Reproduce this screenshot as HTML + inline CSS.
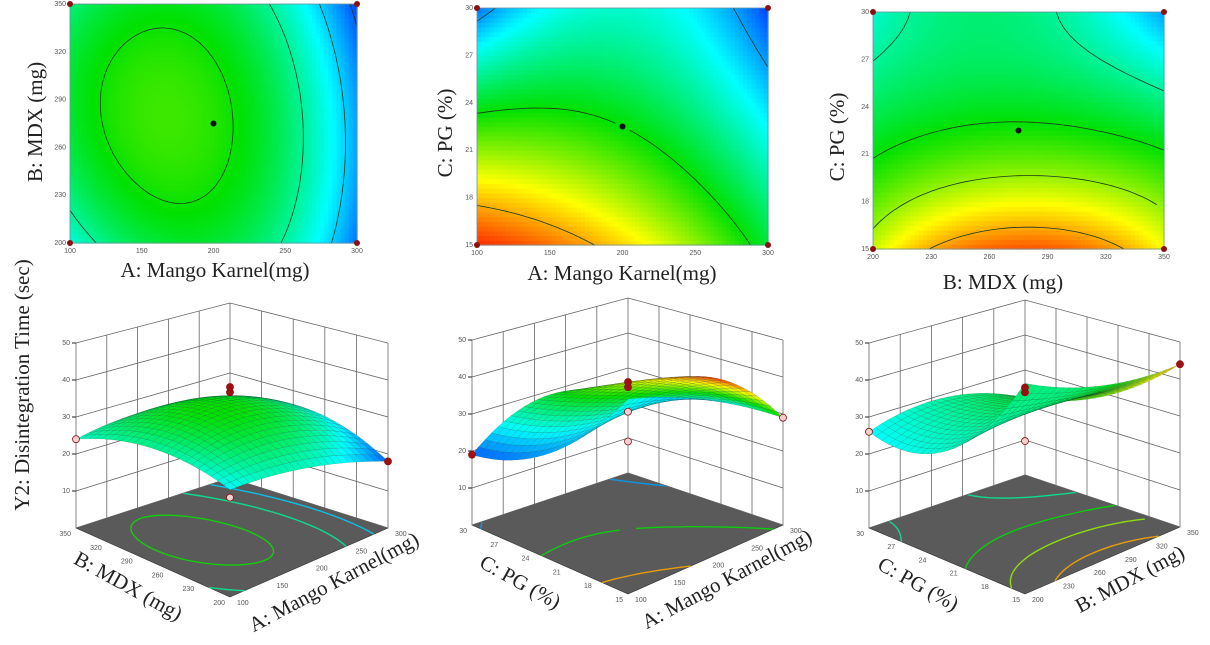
<!DOCTYPE html>
<html><head><meta charset="utf-8"><style>
html,body{margin:0;padding:0;background:#fff;}
svg{display:block;font-family:"Liberation Serif",serif;}
.tk{font-family:"Liberation Sans",sans-serif;font-size:7px;fill:#555;}
.ttl{font-size:21px;fill:#222;}
</style></head><body>
<svg id="fig" width="1210" height="645" viewBox="0 0 1210 645" xmlns="http://www.w3.org/2000/svg">
<rect width="1210" height="645" fill="#fff"/>
<text class="ttl" font-size="23" transform="translate(29,385) rotate(-90)" text-anchor="middle">Y2: Disintegration Time (sec)</text>
<g id="layer"></g>
</svg>
<script>
// ---- contour data (normalized response on 3x3 design grid: [x-level][y-level]) ----
const contour1Values = [[0.28,0.45,0.38],[0.45,0.535,0.45],[0.10,0.15,0.05]];
const contour2Values = [[1.00,0.55,0.10],[0.80,0.50,0.30],[0.45,0.25,0.05]];
const contour3Values = [[0.70,0.45,0.30],[0.95,0.52,0.38],[0.75,0.45,0.15]];
const contour1Levels = [0.51,0.35,0.2,0.08];
const contour2Levels = [0.85,0.5,0.15];
const contour3Levels = [0.85,0.65,0.5,0.35];
const ticksA = ["100","150","200","250","300"];
const ticksB = ["200","230","260","290","320","350"];
const ticksC = ["15","18","21","24","27","30"];
const ticksZ = ["10","20","30","40","50"];
const zTickValues = [10,20,30,40,50];
// ---- 3D surface heights on 3x3 grid [a-level][b-level] ----
const surface1Z = [[27.5,30,24],[25,34,26],[18,26,22]];
const surface2Z = [[50,28,19],[42,36,29],[29,34,20]];
const surface3Z = [[54,29,26],[46,33,29],[44,29,22]];
// surface colour levels (0 blue .. 1 red) on same grid
const surface1C = [[0.25,0.35,0.30],[0.30,0.50,0.38],[0.08,0.25,0.25]];
const surface2C = [[0.30,0.15,0.08],[0.20,0.50,0.45],[0.50,1.00,0.50]];
const surface3C = [[0.40,0.30,0.25],[0.45,0.42,0.35],[0.85,0.62,0.45]];
// design points [a,b,z,isRed]
const points1 = [[0,1,24,0],[1,0,18,1],[1,1,24.5,1],[1,1,26,1],[0,0,25.5,0]];
const points2 = [[0,1,19,1],[1,1,24.5,1],[1,1,26,1],[1,1,17.5,0],[1,1,9,0],[1,0,29,0]];
const points3 = [[0,1,26,0],[1,0,44,1],[1,1,23.6,1],[1,1,25,1],[1,1,9.7,0]];

const NS="http://www.w3.org/2000/svg";
const layer=document.getElementById('layer');
function mk(tag,attrs,parent){const e=document.createElementNS(NS,tag);for(const k in attrs)e.setAttribute(k,attrs[k]);(parent||layer).appendChild(e);return e;}
function Lb(t){return [2*(t-.5)*(t-1),-4*t*(t-1),2*t*(t-.5)];}
function val(g,s,t){const A=Lb(s),B=Lb(t);let v=0;for(let i=0;i<3;i++)for(let j=0;j<3;j++)v+=g[i][j]*A[i]*B[j];return v;}
const stops=[[0,[0,20,255]],[0.25,[0,255,255]],[0.5,[0,225,0]],[0.75,[255,255,0]],[1,[255,40,0]]];
function cmapArr(v){v=Math.max(0,Math.min(1,v));for(let k=1;k<stops.length;k++){if(v<=stops[k][0]){const a=stops[k-1],b=stops[k];const f=(v-a[0])/(b[0]-a[0]);return a[1].map((x,i)=>Math.round(x+(b[1][i]-x)*f));}}return [255,40,0];}
function cmap(v){const c=cmapArr(v);return `rgb(${c[0]},${c[1]},${c[2]})`;}
function contourPath(g,levels,nx,ny,map){
 const out=[];
 levels.forEach(L=>{let d='';
  for(let i=0;i<nx;i++)for(let j=0;j<ny;j++){
   const s0=i/nx,s1=(i+1)/nx,t0=j/ny,t1=(j+1)/ny;
   const c=[[s0,t0,val(g,s0,t0)],[s1,t0,val(g,s1,t0)],[s1,t1,val(g,s1,t1)],[s0,t1,val(g,s0,t1)]];
   const pts=[];
   for(let k=0;k<4;k++){const p=c[k],q=c[(k+1)%4];if((p[2]-L)*(q[2]-L)<0){const f=(L-p[2])/(q[2]-p[2]);pts.push(map(p[0]+(q[0]-p[0])*f,p[1]+(q[1]-p[1])*f));}}
   for(let k=0;k+1<pts.length;k+=2)d+=`M${pts[k][0].toFixed(1)},${pts[k][1].toFixed(1)}L${pts[k+1][0].toFixed(1)},${pts[k+1][1].toFixed(1)}`;
  }
  out.push([L,d]);});
 return out;
}
function contourPlot(cfg){
 const g=mk('g',{});
 
 
 const {x0,y0,x1,y1}=cfg;const nx=70,ny=50,w=(x1-x0)/nx,h=(y1-y0)/ny;
 for(let i=0;i<nx;i++)for(let j=0;j<ny;j++){
  mk('rect',{x:(x0+i*w).toFixed(2),y:(y1-(j+1)*h).toFixed(2),width:(w+0.6).toFixed(2),height:(h+0.6).toFixed(2),fill:cmap(val(cfg.values,(i+.5)/nx,(j+.5)/ny))},g);
 }
 const map=(s,t)=>[x0+s*(x1-x0),y1-t*(y1-y0)];
 contourPath(cfg.values,cfg.levels,40,30,map).forEach(([L,d])=>{const p=mk('path',{d:d,stroke:'#1a3a1a',"stroke-width":0.8,fill:'none'},g);});
 mk('rect',{x:x0,y:y0,width:x1-x0,height:y1-y0,fill:'none',stroke:'#6a8fa0',"stroke-width":0.8},g);
 cfg.xt.forEach((t,k)=>{const x=x0+k/(cfg.xt.length-1)*(x1-x0);const e=mk('text',{x:x,y:y1+10,class:'tk',"text-anchor":'middle'},g);e.textContent=t;});
 cfg.yt.forEach((t,k)=>{const y=y1-k/(cfg.yt.length-1)*(y1-y0);const e=mk('text',{x:x0-4,y:y+2,class:'tk',"text-anchor":'end'},g);e.textContent=t;});
 [[x0,y0],[x1,y0],[x0,y1],[x1,y1]].forEach(p=>{const c=mk('circle',{cx:p[0],cy:p[1],r:3,fill:'#8b1010'},g);});
 const cp=map(0.5,0.5);const c=mk('circle',{cx:cp[0],cy:cp[1],r:3,fill:'#111'},g);
 const xt=mk('text',{x:cfg.xtx,y:cfg.xty,class:'ttl',"text-anchor":'middle'},g);xt.textContent=cfg.xtitle;
 const yt=mk('text',{class:'ttl',"text-anchor":'middle',transform:`translate(${cfg.ytx},${cfg.yty}) rotate(-90)`},g);yt.textContent=cfg.ytitle;
}
contourPlot({name:'contour-plot-a-b',x0:70,y0:4,x1:357,y1:243,values:contour1Values,levels:contour1Levels,xt:ticksA,yt:ticksB,xtitle:'A: Mango Karnel(mg)',xtx:215,xty:277,ytitle:'B: MDX (mg)',ytx:42,yty:122});
contourPlot({name:'contour-plot-a-c',x0:477,y0:8,x1:768,y1:245,values:contour2Values,levels:contour2Levels,xt:ticksA,yt:ticksC,xtitle:'A: Mango Karnel(mg)',xtx:622,xty:280,ytitle:'C: PG (%)',ytx:452,yty:133});
contourPlot({name:'contour-plot-b-c',x0:873,y0:12,x1:1164,y1:249,values:contour3Values,levels:contour3Levels,xt:ticksB,yt:ticksC,xtitle:'B: MDX (mg)',xtx:1003,xty:289,ytitle:'C: PG (%)',ytx:844,yty:137});

function surfacePlot(cfg){
 const g=mk('g',{});
 
 
 const {F,L,R,B}=cfg;
 function proj(a,b,z){const x=F[0]*(1-a)*(1-b)+R[0]*a*(1-b)+L[0]*(1-a)*b+B[0]*a*b;const y=F[1]*(1-a)*(1-b)+R[1]*a*(1-b)+L[1]*(1-a)*b+B[1]*a*b;const s=3.9-0.4*(a+b)/2;return [x,y-z*s];}
 const P=p=>p[0].toFixed(1)+','+p[1].toFixed(1);
 const fl=mk('polygon',{points:[proj(0,0,0),proj(1,0,0),proj(1,1,0),proj(0,1,0)].map(P).join(' '),fill:'#5a5a5a',stroke:'#333',"stroke-width":0.6},g);
 
 contourPath(cfg.floorValues,cfg.floorLevels,30,30,(a,b)=>proj(a,b,0)).forEach(([Lv,d])=>{const p=mk('path',{d:d,stroke:cmap(Lv),"stroke-width":1.4,fill:'none',opacity:0.85},g);});
 let d='';
 for(let k=0;k<=5;k++){const t=k/5;let p=proj(t,1,0),q=proj(t,1,50);d+=`M${P(p)}L${P(q)}`;p=proj(1,t,0);q=proj(1,t,50);d+=`M${P(p)}L${P(q)}`;}
 zTickValues.forEach(z=>{d+=`M${P(proj(0,1,z))}L${P(proj(1,1,z))}L${P(proj(1,0,z))}`;});
 d+=`M${P(proj(0,1,0))}L${P(proj(1,1,0))}L${P(proj(1,0,0))}`;
 d+=`M${P(proj(0,1,0))}L${P(proj(0,1,50))}M${P(proj(1,0,0))}L${P(proj(1,0,50))}`;
 const w=mk('path',{d:d,stroke:'#666',"stroke-width":0.8,fill:'none'},g);
 ticksZ.forEach((t,k)=>{const p=proj(0,1,zTickValues[k]);mk('line',{x1:p[0]-4,y1:p[1],x2:p[0],y2:p[1],stroke:'#222'},g);const e=mk('text',{x:p[0]-6,y:p[1]+2,class:'tk',"text-anchor":'end'},g);e.textContent=t;});
 cfg.rt.forEach((t,k)=>{const p=proj(k/(cfg.rt.length-1),0,0);const e=mk('text',{x:p[0]+7,y:p[1]+8,class:'tk'},g);e.textContent=t;});
 cfg.lt.forEach((t,k)=>{const p=proj(0,k/(cfg.lt.length-1),0);const e=mk('text',{x:p[0]-5,y:p[1]+8,class:'tk',"text-anchor":'end'},g);e.textContent=t;});
 const N=24,quads=[];
 for(let i=0;i<N;i++)for(let j=0;j<N;j++){const a0=i/N,a1=(i+1)/N,b0=j/N,b1=(j+1)/N;
  const zs=[[a0,b0],[a1,b0],[a1,b1],[a0,b1]].map(q=>val(cfg.z,q[0],q[1]));
  const cv=val(cfg.c,(a0+a1)/2,(b0+b1)/2);
  quads.push({depth:a0+b0,pts:[proj(a0,b0,zs[0]),proj(a1,b0,zs[1]),proj(a1,b1,zs[2]),proj(a0,b1,zs[3])],cv:cv});}
 quads.sort((p,q)=>q.depth-p.depth);
 const sg=mk('g',{},g);
 quads.forEach(q=>{mk('polygon',{points:q.pts.map(P).join(' '),fill:cmap(q.cv),stroke:'rgba(0,40,30,0.3)',"stroke-width":0.4},sg);});
 cfg.pts.forEach(pt=>{const p=proj(pt[0],pt[1],pt[2]);const c=mk('circle',{cx:p[0],cy:p[1],r:3.5,fill:pt[3]?'#a01010':'#f4d0d0',stroke:'#8b1010',"stroke-width":0.8},g);});
 const t1=mk('text',{class:'ttl',"text-anchor":'middle',transform:`translate(${cfg.lx},${cfg.ly}) rotate(29)`},g);t1.textContent=cfg.ltitle;
 const t2=mk('text',{class:'ttl',"text-anchor":'middle',transform:`translate(${cfg.rx},${cfg.ry}) rotate(-28)`},g);t2.textContent=cfg.rtitle;
}
surfacePlot({name:'surface-plot-a-b',F:[230,597],L:[76,528],R:[388,528],B:[230,478],z:surface1Z,c:surface1C,floorValues:contour1Values,floorLevels:contour1Levels,pts:points1,rt:ticksA,lt:ticksB,ltitle:'B: MDX (mg)',lx:125,ly:592,rtitle:'A: Mango Karnel(mg)',rx:337,ry:588});
surfacePlot({name:'surface-plot-a-c',F:[628,594],L:[472,525],R:[783,525],B:[628,473],z:surface2Z,c:surface2C,floorValues:contour2Values,floorLevels:contour2Levels,pts:points2,rt:ticksA,lt:ticksC,ltitle:'C: PG (%)',lx:517,ly:588,rtitle:'A: Mango Karnel(mg)',rx:730,ry:585});
surfacePlot({name:'surface-plot-b-c',F:[1025,594],L:[869,528],R:[1180,527],B:[1025,475],z:surface3Z,c:surface3C,floorValues:contour3Values,floorLevels:contour3Levels,pts:points3,rt:ticksB,lt:ticksC,ltitle:'C: PG (%)',lx:915,ly:590,rtitle:'B: MDX (mg)',rx:1133,ry:585});
</script>
</body></html>
